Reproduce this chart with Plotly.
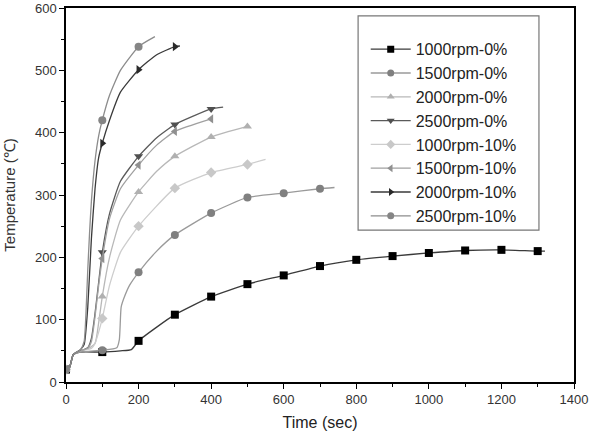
import plotly.graph_objects as go

# ---- data ----
names = ["1000rpm-0%", "1500rpm-0%", "2000rpm-0%", "2500rpm-0%",
         "1000rpm-10%", "1500rpm-10%", "2000rpm-10%", "2500rpm-10%"]

t_1000_0 = [0, 10, 20, 40, 100, 150, 180, 200, 250, 300, 350, 400, 500, 600, 700, 800, 900, 1000, 1100, 1200, 1300, 1320]
T_1000_0 = [20, 24, 44, 48, 48, 50, 52, 66, 88, 108, 123, 137, 157, 171, 186, 196, 202, 207, 211, 212, 210, 210]

t_1500_0 = [0, 10, 20, 40, 100, 140, 147, 152, 160, 175, 200, 250, 300, 400, 500, 600, 700, 740]
T_1500_0 = [20, 24, 44, 48, 51, 55, 68, 120, 135, 155, 176, 210, 236, 271, 296, 303, 310, 312]

t_2000_0 = [0, 10, 20, 40, 60, 80, 90, 100, 120, 150, 200, 250, 300, 400, 500]
T_2000_0 = [20, 24, 44, 50, 53, 62, 95, 137, 200, 260, 305, 338, 362, 393, 410]

t_2500_0 = [0, 10, 20, 40, 60, 70, 80, 90, 100, 120, 150, 200, 250, 300, 400, 433]
T_2500_0 = [20, 24, 44, 50, 55, 70, 110, 160, 208, 270, 322, 362, 392, 413, 438, 441]

t_1000_10 = [0, 10, 20, 40, 70, 80, 90, 100, 120, 150, 200, 300, 400, 500, 550]
T_1000_10 = [20, 24, 44, 50, 54, 62, 80, 102, 155, 208, 250, 311, 336, 349, 357]

t_1500_10 = [0, 10, 20, 40, 60, 70, 80, 90, 100, 120, 150, 200, 250, 300, 400]
T_1500_10 = [20, 24, 44, 50, 54, 65, 105, 155, 198, 262, 310, 348, 380, 402, 422]

t_2000_10 = [0, 10, 20, 40, 50, 60, 70, 80, 90, 100, 120, 150, 200, 250, 300, 314]
T_2000_10 = [20, 24, 44, 52, 60, 120, 230, 310, 360, 383, 420, 465, 501, 525, 538, 539]

t_2500_10 = [0, 10, 20, 40, 50, 55, 60, 65, 70, 80, 90, 100, 120, 150, 200, 245]
T_2500_10 = [20, 24, 44, 52, 65, 110, 180, 240, 290, 355, 395, 420, 460, 500, 538, 554]

series_t = [t_1000_0, t_1500_0, t_2000_0, t_2500_0, t_1000_10, t_1500_10, t_2000_10, t_2500_10]
series_T = [T_1000_0, T_1500_0, T_2000_0, T_2500_0, T_1000_10, T_1500_10, T_2000_10, T_2500_10]

# ---- styles ----
line_colors = ["#3a3a3a", "#9a9a9a", "#b8b8b8", "#5a5a5a", "#cdcdcd", "#a0a0a0", "#3a3a3a", "#8c8c8c"]
marker_colors = ["#000000", "#808080", "#b0b0b0", "#505050", "#c8c8c8", "#909090", "#2a2a2a", "#858585"]
symbols = ["square", "circle", "triangle-up", "triangle-down", "diamond", "triangle-left", "triangle-right", "circle"]

fig = go.Figure()
for i, name in enumerate(names):
    tt, TT = series_t[i], series_T[i]
    mt = [a for a in tt if a % 100 == 0]
    mT = [b for a, b in zip(tt, TT) if a % 100 == 0]
    fig.add_trace(go.Scatter(x=tt, y=TT, mode="lines", showlegend=False,
                             line=dict(color=line_colors[i], width=1.3, shape="spline", smoothing=0.5),
                             hoverinfo="skip"))
    fig.add_trace(go.Scatter(x=mt, y=mT, mode="markers", showlegend=False,
                             marker=dict(symbol=symbols[i], size=8, color=marker_colors[i])))
    # legend entry
    fig.add_trace(go.Scatter(x=[None], y=[None], mode="lines+markers", name=name,
                             line=dict(color=line_colors[i], width=1.3),
                             marker=dict(symbol=symbols[i], size=7, color=marker_colors[i])))

axis_common = dict(showline=True, linecolor="black", linewidth=1.5, mirror=True,
                   ticks="outside", ticklen=5, tickwidth=1.3, tickcolor="black",
                   showgrid=False, zeroline=False, automargin=False,
                   tickfont=dict(family="Liberation Sans, Arial", size=13, color="#333"))

fig.update_xaxes(range=[0, 1400], dtick=200, tick0=0,
                 minor=dict(dtick=100, ticks="outside", ticklen=3, tickcolor="black"),
                 title=dict(text="Time (sec)", font=dict(family="Liberation Sans, Arial", size=16, color="#222"),
                            standoff=22),
                 **axis_common)
fig.update_yaxes(range=[0, 600], dtick=100, tick0=0,
                 minor=dict(dtick=50, ticks="outside", ticklen=3, tickcolor="black"),
                 title=dict(text="Temperature (℃)", font=dict(family="Liberation Sans, Arial", size=15, color="#333"),
                            standoff=16),
                 **axis_common)

fig.add_shape(type="rect", xref="paper", yref="paper", x0=0.575, x1=0.931, y0=0.406, y1=0.979,
              line=dict(color="#777", width=1.2), fillcolor="white", layer="below")

fig.update_layout(
    width=589, height=431,
    margin=dict(l=66, r=15, t=8, b=49),
    paper_bgcolor="white", plot_bgcolor="white",
    font=dict(family="Liberation Sans, Arial", color="#222"),
    legend=dict(x=0.59, y=0.935, xanchor="left", yanchor="top",
                bgcolor="rgba(0,0,0,0)", borderwidth=0,
                font=dict(family="Liberation Sans, Arial", size=16, color="#222"),
                itemwidth=40),
)

fig.write_html("out.html")
